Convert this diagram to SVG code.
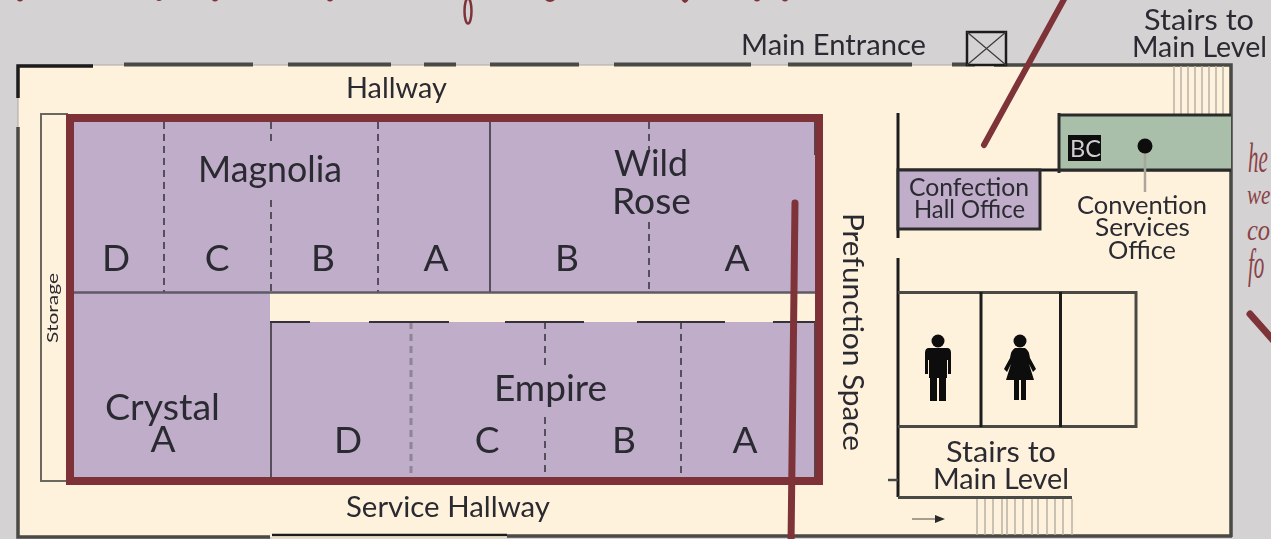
<svg xmlns="http://www.w3.org/2000/svg" width="1271" height="539" viewBox="0 0 1271 539">
<defs>
<filter id="soft" x="-2%" y="-2%" width="104%" height="104%"><feGaussianBlur stdDeviation="0.5"/></filter>
</defs>
<style>
text{font-family:"Lato","Liberation Sans",sans-serif;fill:#2c2a30}
.l{font-size:28px;text-anchor:start}
.xl{font-size:37px}
.m{font-size:25px}
.wall{fill:none;stroke:#4a4844;stroke-width:3}
.bk{fill:none;stroke:#1c1b1b;stroke-width:3}
.sol{fill:none;stroke:#55505c;stroke-width:2}
.dash{fill:none;stroke:#55505c;stroke-width:2;stroke-dasharray:7 5}
.stair{fill:none;stroke:#b8b3a6;stroke-width:1.500}
.lead{fill:none;stroke:#7e3338;stroke-linecap:round}
.hand{font-family:"Liberation Serif",serif;font-style:italic;font-size:34px;fill:#8a4347}
</style>
<rect width="1271" height="539" fill="#d5d2d4"/>
<g filter="url(#soft)">
<g id="building">
<rect x="18" y="65" width="1213" height="472" fill="#fef2dc"/>
<path d="M18 65H1231M18 65V127" fill="none" stroke="#a9a6a4" stroke-width="1"/>
<path d="M18 98V66H93" fill="none" stroke="#1c1b1b" stroke-width="3.500"/>
<path d="M18 127V537H270M507 536H1232M1231 537V65H994" fill="none" stroke="#4a4844" stroke-width="3.500"/>
<path d="M124 64.500H253M288 64.500H391M424 64.500H456M490 64.500H579M614 64.500H751M788 64.500H912M952 64.500H975" fill="none" stroke="#4a4844" stroke-width="4"/>
<path d="M272 535H507" fill="none" stroke="#1c1b1b" stroke-width="2.500"/>
<rect x="272" y="536.500" width="235" height="3" fill="#e4dcc8"/>
</g>
<g id="main-entrance">
<text class="l" x="741" y="55" textLength="185" lengthAdjust="spacingAndGlyphs">Main Entrance</text>
<rect x="967" y="32" width="39" height="33" fill="#d5d2d4" stroke="#1c1b1b" stroke-width="2.500"/>
<path d="M967 32L1006 65M1006 32L967 65" stroke="#3c3a3a" stroke-width="1.200"/>
</g>
<g id="stairs-top">
<path class="stair" d="M1174 66V114M1181 66V114M1188 66V114M1195 66V114M1202 66V114M1209 66V114M1216 66V114M1223 66V114"/>
<text class="l" x="1144" y="30" textLength="110" lengthAdjust="spacingAndGlyphs">Stairs to</text>
<text class="l" x="1132" y="57" textLength="135" lengthAdjust="spacingAndGlyphs">Main Level</text>
</g>
<g id="hallway"><text class="l" x="346" y="98" textLength="101" lengthAdjust="spacingAndGlyphs">Hallway</text></g>
<g id="storage">
<rect x="41" y="114" width="26" height="367" fill="#fef2dc" stroke="#6b675e" stroke-width="2"/>
<text transform="translate(58 343) rotate(-90)" style="font-size:16px" textLength="70" lengthAdjust="spacingAndGlyphs">Storage</text>
</g>
<g id="ballrooms">
<rect x="70" y="118" width="749" height="363" fill="#bfadc9"/>
<rect x="270" y="293" width="549" height="29" fill="#fef2dc"/>
<path d="M74 292.500H815" fill="none" stroke="#5f5a66" stroke-width="2.500"/>
<path class="sol" d="M490 122V292M271 322V477"/>
<path class="dash" d="M164 122V292M378 122V292M271 122V142M271 200V292M649 122V150M649 222V292M545 322V366M545 417V477M681 322V477"/>
<path class="dash" d="M411 322V477" style="stroke:#8d8494;stroke-width:3"/>
<path d="M270 322H310M369 322H449M505 322H584M637 322H725M773 322H815" fill="none" stroke="#35333a" stroke-width="2"/>
<path class="sol" d="M815 122V155M815 322V477" style="stroke:#4a4850"/>
</g>
<g id="magnolia">
<text class="xl" x="198" y="182" textLength="144" lengthAdjust="spacingAndGlyphs">Magnolia</text>
<text class="xl" x="116" y="271" text-anchor="middle">D</text>
<text class="xl" x="217" y="271" text-anchor="middle">C</text>
<text class="xl" x="323" y="271" text-anchor="middle">B</text>
<text class="xl" x="436" y="271" text-anchor="middle">A</text>
</g>
<g id="wild-rose">
<text class="xl" x="614" y="176" textLength="74" lengthAdjust="spacingAndGlyphs">Wild</text>
<text class="xl" x="612" y="214" textLength="79" lengthAdjust="spacingAndGlyphs">Rose</text>
<text class="xl" x="567" y="271" text-anchor="middle">B</text>
<text class="xl" x="737" y="271" text-anchor="middle">A</text>
</g>
<g id="crystal">
<text class="xl" x="105" y="420" textLength="115" lengthAdjust="spacingAndGlyphs">Crystal</text>
<text class="xl" x="163" y="452" text-anchor="middle">A</text>
</g>
<g id="empire">
<text class="xl" x="494" y="401" textLength="113" lengthAdjust="spacingAndGlyphs">Empire</text>
<text class="xl" x="348" y="453" text-anchor="middle">D</text>
<text class="xl" x="487" y="453" text-anchor="middle">C</text>
<text class="xl" x="624" y="453" text-anchor="middle">B</text>
<text class="xl" x="745" y="453" text-anchor="middle">A</text>
</g>
<g id="maroon-outline"><rect x="70" y="118" width="749" height="363" fill="none" stroke="#7e3338" stroke-width="8"/></g>
<g id="service-hallway"><text class="l" x="346" y="517" textLength="204" lengthAdjust="spacingAndGlyphs">Service Hallway</text></g>
<g id="prefunction"><text class="l" transform="translate(843 213) rotate(90)" textLength="238" lengthAdjust="spacingAndGlyphs">Prefunction Space</text></g>
<g id="east-walls">
<path class="bk" d="M898 113V238M898 258V497"/>
<path class="bk" d="M898 170H1231"/>
</g>
<g id="confection-office">
<rect x="898" y="170" width="142" height="59" fill="#bfadc9" stroke="#2c2b2b" stroke-width="3"/>
<text class="m" x="909" y="196" textLength="120" lengthAdjust="spacingAndGlyphs">Confection</text>
<text class="m" x="914" y="218" textLength="111" lengthAdjust="spacingAndGlyphs">Hall Office</text>
</g>
<g id="bc-room">
<rect x="1059" y="115" width="172" height="55" fill="#a9bfa9"/>
<path d="M1059 113V173M1059 115H1231M1059 170H1231" fill="none" stroke="#2c2b2b" stroke-width="3"/>
<rect x="1068" y="135" width="33" height="26" fill="#0b0b0b"/>
<text x="1070" y="157" textLength="31" lengthAdjust="spacingAndGlyphs" style="font-size:24px;fill:#cfcdd0">BC</text>
</g>
<g id="convention-office">
<path d="M1145 153V192" stroke="#a9a69c" stroke-width="2.500"/>
<circle cx="1145" cy="146" r="7.500" fill="#0b0b0b"/>
<text class="m" x="1077" y="214" textLength="130" lengthAdjust="spacingAndGlyphs">Convention</text>
<text class="m" x="1095" y="236" textLength="95" lengthAdjust="spacingAndGlyphs">Services</text>
<text class="m" x="1108" y="259" textLength="68" lengthAdjust="spacingAndGlyphs">Office</text>
</g>
<g id="restrooms">
<path d="M898 292.500H1136V426.500H898" class="wall"/>
<path class="bk" d="M981 292V427M1060.500 292V427"/>
<g id="mens" fill="#0b0b0b">
<circle cx="938" cy="341" r="6.500"/>
<path d="M929 348H947Q951 348 951 353V374H948V360H947V378H946V401H939V378H937V401H930V378H929V360H928V374H925V353Q925 348 929 348Z"/>
</g>
<g id="womens" fill="#0b0b0b">
<circle cx="1020" cy="341" r="6.500"/>
<path d="M1015 348H1025Q1029 350 1030 358L1036 369L1033 372L1029 364L1034 380H1006L1011 364L1007 372L1004 369L1010 358Q1011 350 1015 348Z"/>
<rect x="1014" y="380" width="5" height="20"/>
<rect x="1021" y="380" width="5" height="20"/>
</g>
</g>
<g id="stairs-bottom">
<text class="l" x="946" y="462" textLength="110" lengthAdjust="spacingAndGlyphs">Stairs to</text>
<text class="l" x="933" y="489" textLength="136" lengthAdjust="spacingAndGlyphs">Main Level</text>
<path d="M898 497.500H1072" fill="none" stroke="#4a4844" stroke-width="3"/>
<path d="M888 480H898" stroke="#4a4844" stroke-width="2.500"/>
<path class="stair" d="M977 499V535M985 499V535M993 499V535M1002 499V535M1007 499V535M1015 499V535M1023 499V535M1032 499V535M1038 499V535M1047 499V535M1055 499V535M1063 499V535M1072 499V535"/>
<path d="M912 519H936" stroke="#6b675e" stroke-width="1.200"/>
<path d="M935 515L945 519L935 523Z" fill="#2c2b2b"/>
</g>
</g>
<g id="connectors">
<path class="lead" stroke-width="6" d="M984 145L1068 -8"/>
<path class="lead" stroke-width="7" d="M795 203L791 545"/>
<path class="lead" stroke-width="7" d="M1250 314L1280 348"/>
</g>
<g id="handwriting">
<text class="hand" transform="translate(1248 172) scale(0.62 1.25)">he</text>
<text class="hand" transform="translate(1247 204) scale(0.62 0.8)">we</text>
<text class="hand" transform="translate(1247 240) scale(0.72 0.85)">co</text>
<text class="hand" transform="translate(1248 278) scale(0.62 1.25)">fo</text>
<ellipse cx="468" cy="11" rx="3.500" ry="12.500" fill="none" stroke="#7e3338" stroke-width="2.500"/>
<path d="M16 -1Q20 4 24 -1ZM155 -1Q159 3 163 -1ZM211 -1Q215 4 219 -1ZM326 -1Q330 4 334 -1ZM544 -1Q550 5 556 -1ZM681 -1Q685 7 689 -1ZM753 -1Q757 4 761 -1ZM781 -1Q785 4 789 -1Z" fill="#7e3338"/>
</g>
</svg>
